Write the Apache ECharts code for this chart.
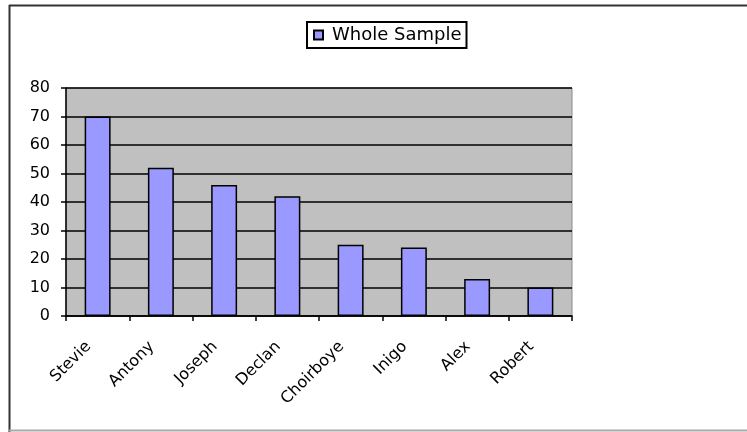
<!DOCTYPE html>
<html>
<head>
<meta charset="utf-8">
<style>
  html, body { margin: 0; padding: 0; background: #fff; }
  #chart { width: 747px; height: 432px; }
</style>
<script src="https://cdn.jsdelivr.net/npm/echarts@6/dist/echarts.min.js"></script>
</head>
<body>
<div id="chart"></div>
<script>
// Names shown along the category axis
const names = ['Stevie', 'Antony', 'Joseph', 'Declan', 'Choirboye', 'Inigo', 'Alex', 'Robert'];
// Counts for the whole sample
const wholeSample = [70, 52, 46, 42, 25, 24, 13, 10];
// Value axis range and step
const yMin = 0;
const yMax = 80;
const yStep = 10;
const seriesName = 'Whole Sample';

const FONT = 'DejaVu Sans, Liberation Sans, Arial, sans-serif';

const chart = echarts.init(document.getElementById('chart'), null, { renderer: 'canvas' });

chart.setOption({
  backgroundColor: '#ffffff',
  animation: false,
  graphic: [
    // frame around the whole chart
    { type: 'line', shape: { x1: 9, y1: 5.5, x2: 747, y2: 5.5 }, style: { stroke: '#333', lineWidth: 2 } },
    { type: 'line', shape: { x1: 9.5, y1: 5, x2: 9.5, y2: 432 }, style: { stroke: '#333', lineWidth: 2 } },
    { type: 'line', shape: { x1: 9, y1: 430.5, x2: 747, y2: 430.5 }, style: { stroke: '#aaa', lineWidth: 2 } }
  ],
  legend: {
    data: [seriesName],
    left: 307,
    top: 22,
    orient: 'horizontal',
    icon: 'rect',
    itemWidth: 9,
    itemHeight: 9,
    borderColor: '#000',
    borderWidth: 2,
    padding: [4, 5, 4, 6],
    textStyle: { fontFamily: FONT, fontSize: 18, color: '#000', padding: [0, 0, 0, 4] }
  },
  grid: {
    left: 66,
    top: 88,
    right: 175,
    bottom: 116,
    show: true,
    backgroundColor: '#c0c0c0',
    borderColor: '#8a8a8a',
    borderWidth: 1
  },
  xAxis: {
    type: 'category',
    data: names,
    boundaryGap: true,
    axisLine: { show: true, lineStyle: { color: '#000', width: 1.5 } },
    axisTick: { show: true, alignWithLabel: false, length: 5, lineStyle: { color: '#000', width: 1.5 } },
    axisLabel: {
      interval: 0,
      rotate: 45,
      margin: 19,
      padding: [0, 13, 0, 0],
      fontFamily: FONT,
      fontSize: 16,
      color: '#000'
    },
    splitLine: { show: false }
  },
  yAxis: {
    type: 'value',
    min: yMin,
    max: yMax,
    interval: yStep,
    axisLine: { show: true, lineStyle: { color: '#000', width: 1.5 } },
    axisTick: { show: true, length: 5, lineStyle: { color: '#000', width: 1.5 } },
    axisLabel: { margin: 16, fontFamily: FONT, fontSize: 16, color: '#000' },
    splitLine: { show: true, lineStyle: { color: '#000', width: 1.5 } }
  },
  series: [{
    name: seriesName,
    type: 'bar',
    data: wholeSample,
    barWidth: '41%',
    itemStyle: { color: '#9999ff', borderColor: '#000', borderWidth: 1.5 }
  }]
});
</script>
</body>
</html>
